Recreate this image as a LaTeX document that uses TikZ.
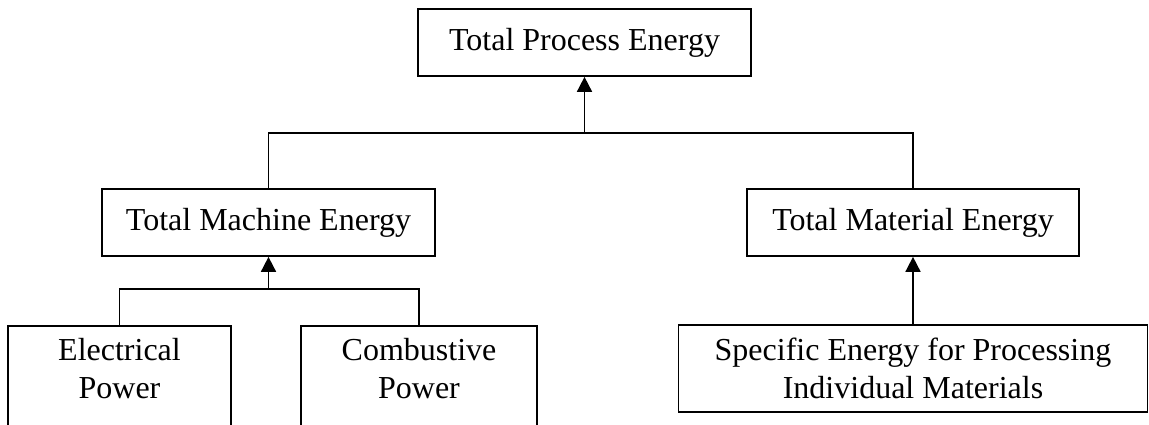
\documentclass[tikz,border=0pt]{standalone}
\usepackage{fontspec}
\setmainfont{Liberation Serif}
\usetikzlibrary{arrows.meta}

\begin{document}
\begin{tikzpicture}[
  x=0.5pt, y=-0.5pt,
  font=\fontsize{16pt}{19pt}\selectfont,
  box/.style={draw, line width=0.85pt, rectangle, inner sep=0pt, align=center},
  label/.style={inner sep=0pt, align=center},
  link/.style={line width=0.85pt},
  uparrow/.style={line width=0.85pt, -{Triangle[width=7.5pt,length=7.5pt]}}
]
\useasboundingbox (0,0) rectangle (1149,424);
\clip (0,0) rectangle (1149,424);

% top level
\node[box, minimum width=166.5pt, minimum height=33.5pt] (total) at (584.5,42.5) {Total Process Energy};

% second level
\node[box, minimum width=166.5pt, minimum height=33.5pt] (machine) at (268.5,222.5) {Total Machine Energy};
\node[box, minimum width=166pt, minimum height=33.5pt] (material) at (913,222.5) {Total Material Energy};

% third level (the two power boxes run past the lower edge)
\node[box, anchor=north, minimum width=111.5pt, minimum height=67.5pt] (elec) at (119.5,325) {};
\node[label] (electxt) at (119.5,368.5) {Electrical\\Power};
\node[box, anchor=north, minimum width=118pt, minimum height=67.5pt] (comb) at (419,325) {};
\node[label] (combtxt) at (419,368.5) {Combustive\\Power};
\node[box, minimum width=234.5pt, minimum height=43.5pt] (spec) at (913,368.5) {Specific Energy for Processing\\Individual Materials};

% junctions
\coordinate (j1) at (584.5,133);
\coordinate (j2) at (268.5,289);

% connectors
\draw[link] (machine.north) |- (j1) -| (material.north);
\draw[uparrow] (j1) -- (total.south);
\draw[link] (elec.north) |- (j2) -| (comb.north);
\draw[uparrow] (j2) -- (machine.south);
\draw[uparrow] (spec.north) -- (material.south);
\end{tikzpicture}
\end{document}
